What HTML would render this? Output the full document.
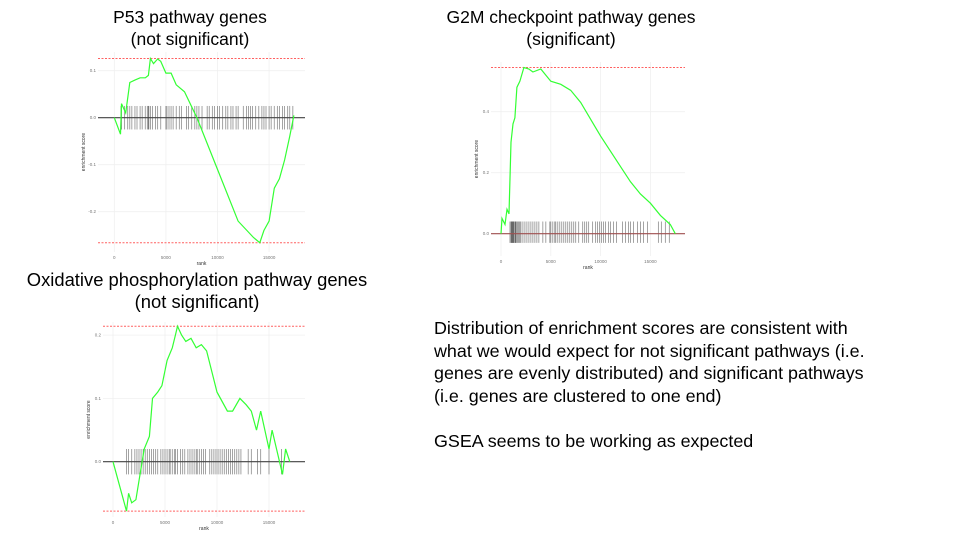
<!DOCTYPE html>
<html><head><meta charset="utf-8"><style>
body{margin:0;width:960px;height:540px;background:#fff;overflow:hidden;position:relative;font-family:"Liberation Sans",Arial,sans-serif;}
.t{position:absolute;font-size:18px;color:#000;text-align:center;line-height:22px;}
#para{position:absolute;left:434px;top:317px;font-size:17.9px;line-height:22.5px;color:#000;}
svg{position:absolute;left:0;top:0;}
</style></head><body>
<div class="t" style="left:90px;top:6px;width:200px;font-size:17.5px">P53 pathway genes<br>(not significant)</div>
<div class="t" style="left:431px;top:6px;width:280px;font-size:17.5px">G2M checkpoint pathway genes<br>(significant)</div>
<div class="t" style="left:7px;top:269px;width:380px;font-size:18.4px">Oxidative phosphorylation pathway genes<br>(not significant)</div>
<div id="para">Distribution of enrichment scores are consistent with<br>what we would expect for not significant pathways (i.e.<br>genes are evenly distributed) and significant pathways<br>(i.e. genes are clustered to one end)<br><br>GSEA seems to be working as expected</div>
<svg id="svg" width="960" height="540"></svg>
<script>
// P53
const p53Ranks=[0,600,700,1100,1500,2000,2500,3000,3300,3500,3800,4200,4500,5000,5500,6000,6800,8000,10000,12000,13500,14100,14500,15000,15500,16000,16500,17000,17400];
const p53ES=[0,-0.035,0.03,0.01,0.075,0.08,0.085,0.085,0.09,0.126,0.115,0.125,0.12,0.095,0.095,0.07,0.055,0,-0.11,-0.22,-0.255,-0.266,-0.24,-0.22,-0.15,-0.13,-0.09,-0.04,0.005];
const p53Hits=[650,700,1000,1300,1500,1700,2000,2200,2500,2700,3000,3200,3300,3350,3500,3700,4000,4200,4500,5000,5100,5300,5500,5700,6000,6300,6500,7000,7200,7500,7800,8000,8200,8500,9000,9200,9500,9700,10000,10200,10500,10800,11000,11300,11500,11800,12000,12500,12800,13000,13200,13400,13700,14000,14300,14500,14700,15000,15200,15500,15800,16000,16300,16500,16800,17000,17300];
const p53Ticks=[0.1,0.0,-0.1,-0.2];
// G2M
const g2mRanks=[0,100,400,600,800,1000,1200,1400,1600,1900,2300,2800,3200,4000,4500,5000,6000,7000,8000,10000,12000,13000,14000,15000,16000,17000,17500];
const g2mES=[0,0.05,0.03,0.08,0.065,0.3,0.36,0.38,0.48,0.5,0.545,0.54,0.53,0.54,0.52,0.5,0.49,0.47,0.43,0.32,0.22,0.17,0.13,0.1,0.06,0.03,0];
const g2mHits=[900,1000,1050,1100,1150,1200,1250,1300,1400,1450,1500,1600,1700,1800,1900,2000,2200,2400,2600,2800,3000,3200,3400,3600,3800,4200,4500,4900,5000,5200,5400,5500,5700,5900,6100,6300,6500,6700,6900,7100,7300,7500,7800,8200,8400,8600,8800,9200,9500,9700,9900,10100,10300,10500,10800,11000,11300,11600,12200,12500,12800,13000,13300,13700,14000,14300,14700,15800,16100,16500,16900];
const g2mTicks=[0.4,0.2,0.0];
// OXPHOS
const oxRanks=[0,1300,1500,1800,2200,2500,3000,3500,3800,4300,4700,5200,5700,6000,6200,6600,7000,7500,8000,8500,9000,10000,11000,11500,12200,12800,13300,13800,14200,15000,15300,16300,16600,17000];
const oxES=[0,-0.078,-0.05,-0.065,-0.06,-0.03,0.02,0.04,0.1,0.11,0.12,0.16,0.18,0.2,0.214,0.2,0.19,0.195,0.18,0.185,0.175,0.11,0.08,0.08,0.1,0.09,0.08,0.05,0.08,0.02,0.05,-0.02,0.02,0];
const oxHits=[1300,1500,1800,2100,2300,2500,2700,2900,3100,3300,3500,3700,3900,4100,4300,4600,4800,5000,5200,5400,5500,5700,5900,6000,6200,6500,6700,6900,7200,7400,7600,7800,8000,8100,8300,8500,8700,8900,9300,9500,9700,9900,10100,10300,10500,10700,10900,11100,11300,11500,11700,11900,12100,12300,13000,13300,13900,14200,15000,16200];
const oxTicks=[0.2,0.1,0.0];
const xTickVals=[0,5000,10000,15000];
const xTickLabels=["0","5000","10000","15000"];

const svg=document.getElementById('svg');
const NS='http://www.w3.org/2000/svg';
function mk(tag,attrs,parent){const e=document.createElementNS(NS,tag);for(const k in attrs)e.setAttribute(k,attrs[k]);(parent||svg).appendChild(e);return e;}

function drawChart(name,ranks,es,hits,ticks,cfg){
  const g=mk('g',{});
  
  
  const X=r=>cfg.x0+r*cfg.xs, Y=v=>cfg.y0-v*cfg.ys;
  xTickVals.forEach((t,i)=>{
    const l=mk('line',{x1:X(t),x2:X(t),y1:cfg.top,y2:cfg.bot,stroke:'#f0f0f0','stroke-width':0.8},g);
    
    const tx=mk('text',{x:X(t),y:cfg.bot+7,'font-size':4.5,fill:'#777','text-anchor':'middle'},g);
    tx.textContent=xTickLabels[i];
    
  });
  ticks.forEach(t=>{
    const l=mk('line',{x1:cfg.left,x2:cfg.right,y1:Y(t),y2:Y(t),stroke:'#f0f0f0','stroke-width':0.8},g);
    
    const tx=mk('text',{x:cfg.left-2,y:Y(t)+1.5,'font-size':4.5,fill:'#777','text-anchor':'end'},g);
    tx.textContent=t.toFixed(1);
    
  });
  const maxV=Math.max(...es),minV=Math.min(...es);
  [maxV,minV].forEach(v=>{
    if(Math.abs(v)<0.005)return;
    const l=mk('line',{x1:cfg.left,x2:cfg.right,y1:Y(v),y2:Y(v),stroke:'#ff6060','stroke-width':1,'stroke-dasharray':'2,1.5'},g);
    
  });
  hits.forEach(h=>{
    const l=mk('line',{x1:X(h),x2:X(h),y1:Y(cfg.hitHi),y2:Y(cfg.hitLo),stroke:'#000','stroke-width':0.8,'stroke-opacity':0.45},g);
    
  });
  const z=mk('line',{x1:cfg.left,x2:cfg.right,y1:Y(0),y2:Y(0),stroke:cfg.zeroColor,'stroke-width':1.2},g);
  
  const pts=ranks.map((r,i)=>X(r).toFixed(1)+','+Y(es[i]).toFixed(1)).join(' ');
  const pl=mk('polyline',{points:pts,fill:'none',stroke:'#33ff33','stroke-width':1.2},g);
  
  const xl=mk('text',{x:(cfg.left+cfg.right)/2,y:cfg.bot+13,'font-size':5,fill:'#333','text-anchor':'middle'},g);
  xl.textContent='rank';
  
  const ym=(cfg.top+cfg.bot)/2, yx=cfg.left-13;
  const yl=mk('text',{x:yx,y:ym,'font-size':5,fill:'#333','text-anchor':'middle',transform:`rotate(-90 ${yx} ${ym})`},g);
  yl.textContent='enrichment score';
  
}
drawChart('p53',p53Ranks,p53ES,p53Hits,p53Ticks,{x0:114.3,xs:51.6/5000,y0:117.7,ys:470,left:98,right:305,top:52,bot:252,hitHi:0.025,hitLo:-0.025,zeroColor:'#444'});
drawChart('g2m',g2mRanks,g2mES,g2mHits,g2mTicks,{x0:501,xs:49.8/5000,y0:233.7,ys:305,left:491,right:685,top:62,bot:256,hitHi:0.04,hitLo:-0.03,zeroColor:'#a05050'});
drawChart('oxphos',oxRanks,oxES,oxHits,oxTicks,{x0:113,xs:52/5000,y0:461.7,ys:633,left:103,right:305,top:322,bot:517,hitHi:0.02,hitLo:-0.02,zeroColor:'#444'});
</script>
</body></html>
